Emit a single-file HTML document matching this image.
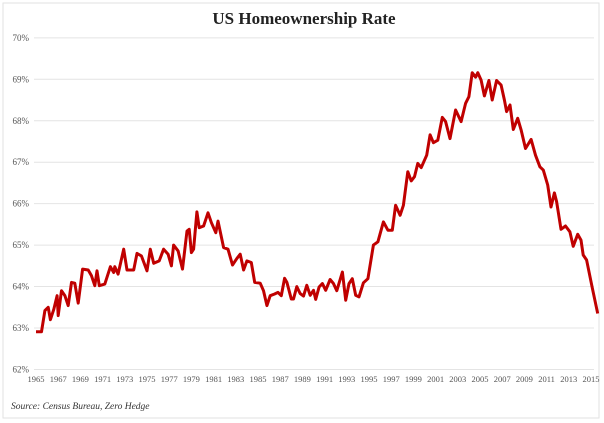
<!DOCTYPE html>
<html><head><meta charset="utf-8"><style>
body{margin:0;background:#fff;}
svg{display:block;}
</style></head><body>
<svg width="604" height="423" xmlns="http://www.w3.org/2000/svg">
<rect x="3" y="3" width="596" height="415" fill="#fff" stroke="#e2e2e2"/>
<text x="304" y="24" text-anchor="middle" font-family="Liberation Serif, serif" font-weight="bold" font-size="17" fill="#222">US Homeownership Rate</text>
<g id="grid"></g><g id="ylab"></g><g id="xlab"></g><g id="series"></g>
<text x="11" y="409" font-family="Liberation Serif, serif" font-style="italic" font-size="9.5" fill="#333">Source: Census Bureau, Zero Hedge</text>
</svg>
<script>
const years=[1965.0,1965.5,1965.8,1966.1,1966.3,1966.6,1966.9,1967.0,1967.3,1967.6,1967.9,1968.2,1968.5,1968.8,1969.2,1969.7,1970.0,1970.3,1970.5,1970.7,1971.2,1971.7,1972.0,1972.1,1972.4,1972.9,1973.2,1973.8,1974.1,1974.5,1975.0,1975.3,1975.6,1976.1,1976.5,1976.9,1977.2,1977.4,1977.8,1978.2,1978.6,1978.8,1979.0,1979.2,1979.5,1979.7,1980.1,1980.5,1980.8,1981.2,1981.4,1981.9,1982.3,1982.7,1983.1,1983.4,1983.7,1984.0,1984.4,1984.7,1985.2,1985.5,1985.8,1986.1,1986.5,1986.8,1987.1,1987.4,1987.6,1988.0,1988.2,1988.5,1988.8,1989.1,1989.4,1989.7,1990.0,1990.2,1990.5,1990.8,1991.1,1991.5,1991.8,1992.1,1992.6,1992.9,1993.2,1993.5,1993.8,1994.1,1994.5,1994.9,1995.4,1995.8,1996.3,1996.7,1997.1,1997.4,1997.8,1998.1,1998.5,1998.8,1999.1,1999.4,1999.7,2000.2,2000.5,2000.8,2001.2,2001.6,2001.9,2002.3,2002.8,2003.3,2003.7,2004.0,2004.3,2004.6,2004.8,2005.1,2005.4,2005.8,2006.1,2006.5,2006.9,2007.2,2007.4,2007.7,2008.0,2008.4,2008.7,2009.1,2009.6,2010.0,2010.4,2010.7,2011.1,2011.4,2011.7,2011.9,2012.3,2012.7,2013.1,2013.4,2013.8,2014.1,2014.3,2014.6,2015.1,2015.6];
const rates=[62.91,62.91,63.42,63.5,63.2,63.45,63.78,63.3,63.9,63.78,63.54,64.1,64.08,63.6,64.42,64.4,64.26,64.02,64.38,64.02,64.06,64.48,64.34,64.48,64.3,64.9,64.4,64.4,64.8,64.74,64.38,64.9,64.56,64.62,64.9,64.78,64.5,65.0,64.86,64.42,65.34,65.38,64.82,64.9,65.8,65.42,65.46,65.78,65.54,65.3,65.58,64.94,64.9,64.52,64.68,64.78,64.4,64.62,64.58,64.1,64.08,63.9,63.54,63.78,63.82,63.86,63.78,64.2,64.1,63.7,63.7,64.0,63.83,63.77,64.03,63.79,63.91,63.69,63.99,64.07,63.91,64.17,64.07,63.9,64.35,63.67,64.07,64.19,63.79,63.75,64.09,64.19,65.0,65.08,65.56,65.36,65.36,65.96,65.72,65.96,66.77,66.55,66.65,66.97,66.87,67.17,67.66,67.47,67.53,68.08,67.98,67.57,68.26,67.98,68.42,68.58,69.16,69.05,69.16,68.98,68.6,68.97,68.5,68.97,68.86,68.5,68.22,68.38,67.79,68.06,67.78,67.33,67.55,67.17,66.89,66.81,66.45,65.92,66.26,66.05,65.38,65.46,65.32,64.97,65.26,65.12,64.76,64.64,63.99,63.35];
const yTicks=[62,63,64,65,66,67,68,69,70];
const xTicks=[1965,1967,1969,1971,1973,1975,1977,1979,1981,1983,1985,1987,1989,1991,1993,1995,1997,1999,2001,2003,2005,2007,2009,2011,2013,2015];
const NS='http://www.w3.org/2000/svg';
function xs(y){return 36+(y-1965)*11.1;}
function ys(v){return 328-(v-63)*41.45;}
function mk(t,a,p){const e=document.createElementNS(NS,t);for(const k in a)e.setAttribute(k,a[k]);p.appendChild(e);return e;}
const g=document.getElementById('grid'),yl=document.getElementById('ylab'),xl=document.getElementById('xlab'),s=document.getElementById('series');
yTicks.forEach(v=>{
 const l=mk('line',{x1:34,x2:594,y1:ys(v),y2:ys(v),stroke:'#e4e4e4','stroke-width':1},g);
 
 
 const t=mk('text',{x:29,y:ys(v)+3,'text-anchor':'end','font-family':'Liberation Serif, serif','font-size':9,fill:'#555'},yl);
 t.textContent=v+'%';
 
 
});
xTicks.forEach(y=>{
 const t=mk('text',{x:xs(y),y:382,'text-anchor':'middle','font-family':'Liberation Serif, serif','font-size':8.5,fill:'#555'},xl);
 t.textContent=y;
 
 
});
const p=mk('polyline',{points:years.map((y,i)=>xs(y).toFixed(1)+','+ys(rates[i]).toFixed(1)).join(' '),fill:'none',stroke:'#c00000','stroke-width':3,'stroke-linejoin':'round'},s);


</script>
</body></html>
